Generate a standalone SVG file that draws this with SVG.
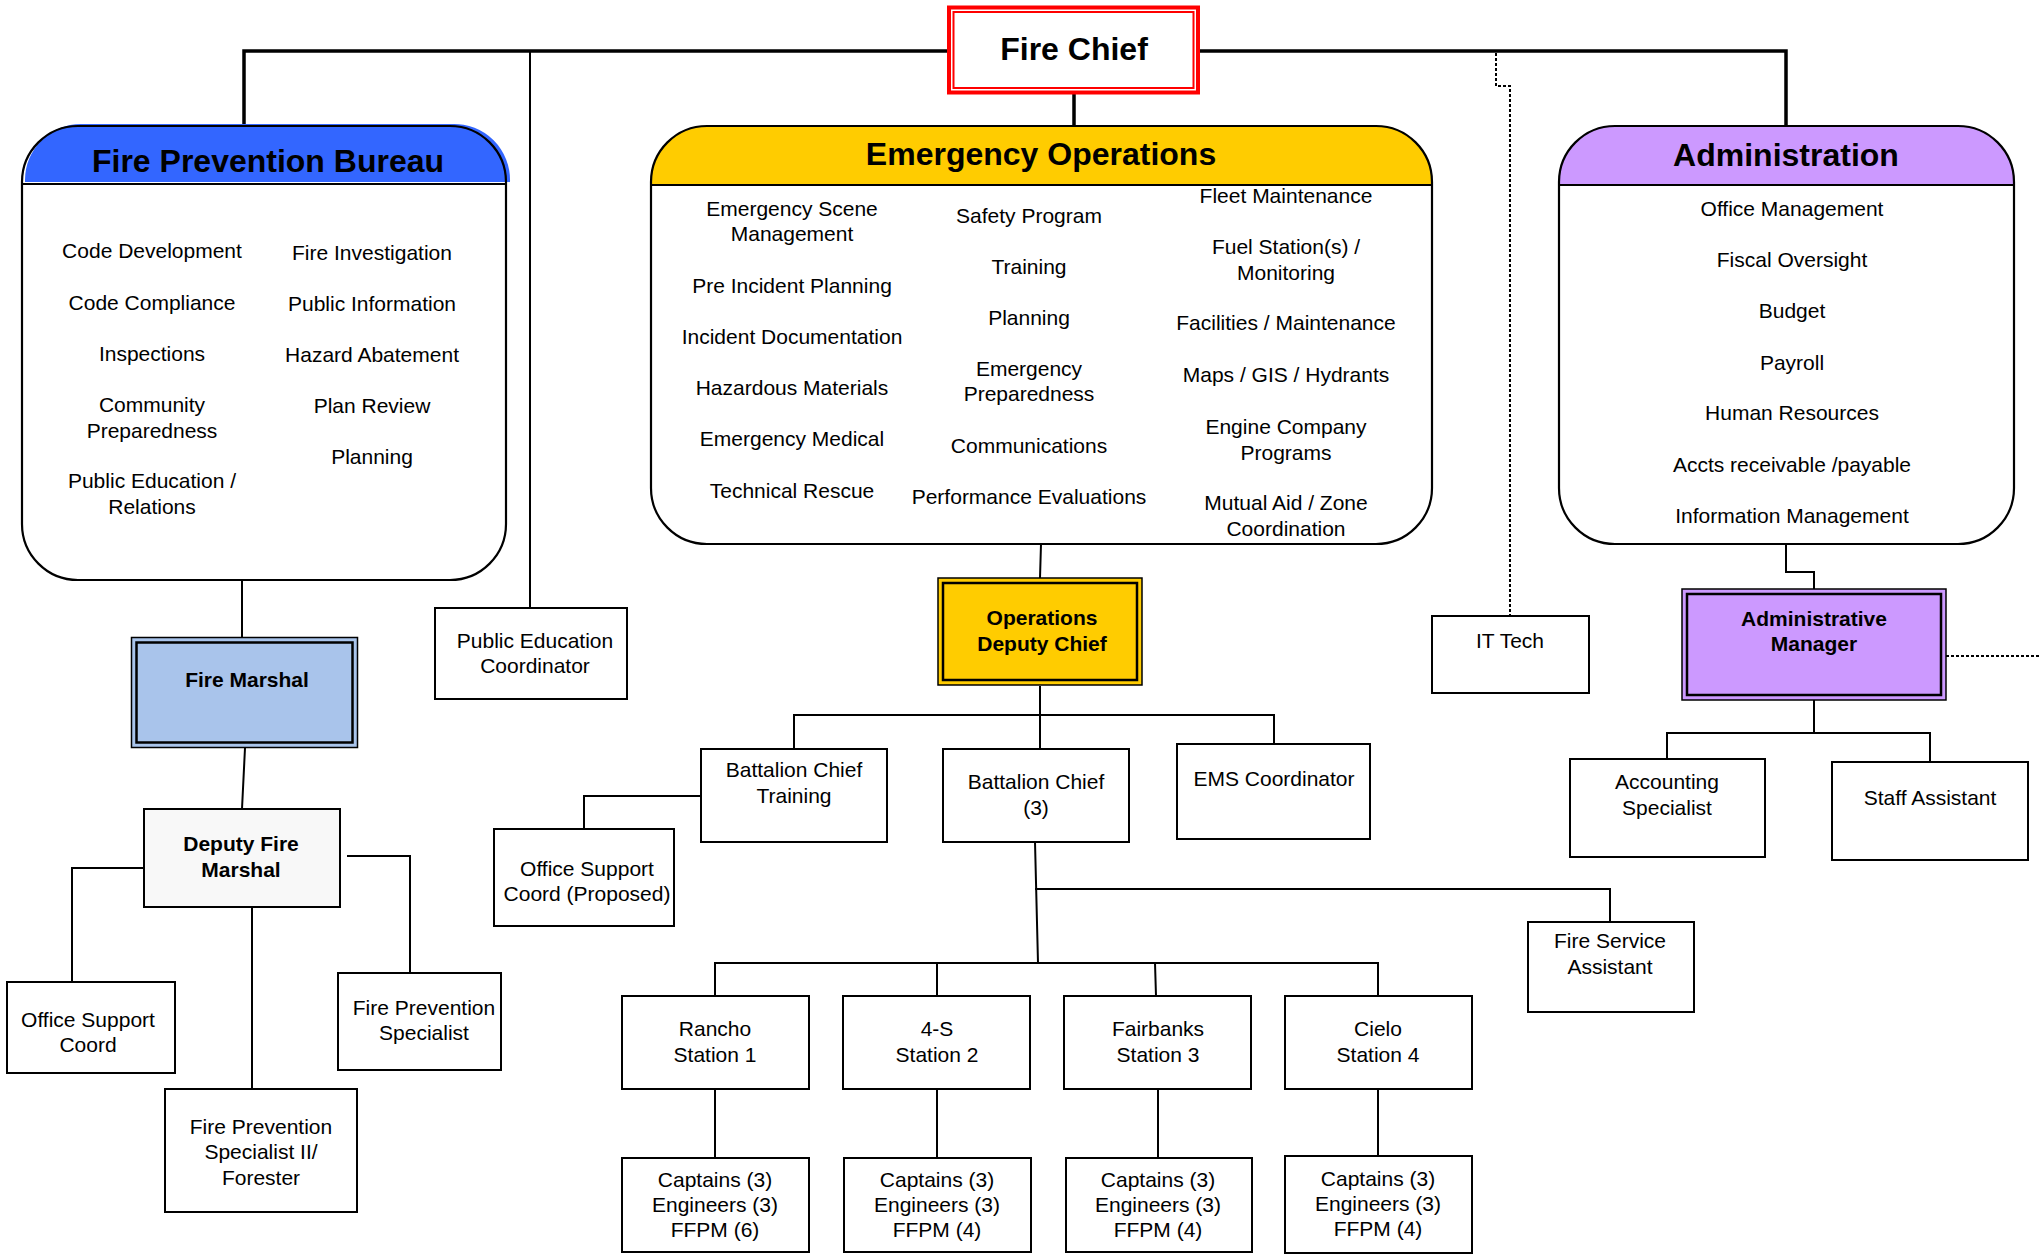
<svg xmlns="http://www.w3.org/2000/svg" width="2040" height="1257" viewBox="0 0 2040 1257">
<style>
text{font-family:"Liberation Sans",Arial,sans-serif;fill:#000;text-anchor:middle}
.t{font-size:21px}
.b{font-size:21px;font-weight:bold}
.h{font-size:32px;font-weight:bold}
.box{fill:#fff;stroke:#000;stroke-width:2}
.ol{fill:none;stroke:#000;stroke-width:2.2}
.c{fill:none;stroke:#000;stroke-width:2}
.ck{fill:none;stroke:#000;stroke-width:3.5}
.d{fill:none;stroke:#000;stroke-width:2;stroke-dasharray:3 2}
</style>
<rect width="2040" height="1257" fill="#fff"/>
<g id="connectors">
<path class="ck" d="M244,128 V51 H948 M1200,51 H1786 V127 M1074,94 V127"/>
<path class="c" d="M530,51 V616"/>
<path class="d" d="M1496,53 V86 H1510 V616"/>
<path class="c" d="M242,580 V637 M245,748 L242,809 M144,868 H72 V988 M347,856 H410 V976 M252,907 V1092"/>
<path class="c" d="M1041,544 L1040,578 M1040,686 V749 M794,749 V715 H1274 V744 M701,796 H584 V829"/>
<path class="c" d="M1035,842 L1038,963 M1035,889 H1610 V922 M715,996 V963 H1378 V996 M937,963 V996 M1155,963 L1156,996"/>
<path class="c" d="M715,1089 V1158 M937,1089 V1158 M1158,1089 V1158 M1378,1089 V1156"/>
<path class="c" d="M1786,544 V572 H1814 V589 M1814,700 V733 M1667,759 V733 H1930 V772"/>
<path class="d" d="M1946,656 H2040"/>
</g>
<g id="fire-chief">
<rect x="949" y="7.5" width="249" height="85" fill="#fff" stroke="#f00" stroke-width="4"/>
<rect x="953.5" y="12" width="240" height="76" fill="none" stroke="#f00" stroke-width="2"/>
<text class="h" x="1074" y="60">Fire Chief</text>
</g>
<g id="fire-prevention-bureau">
<rect x="22" y="126" width="484" height="454" rx="56" ry="56" fill="#fff"/>
<path d="M25,182 V180 A56,56 0 0 1 81,124 H452 A56,56 0 0 1 510,182 Z" fill="#3366FF"/>
<rect x="22" y="126" width="484" height="454" rx="56" ry="56" class="ol"/>
<path class="ol" d="M22,184 H506"/>
<text class="h" x="268" y="172">Fire Prevention Bureau</text>
<text class="t" x="152" y="258">Code Development</text>
<text class="t" x="152" y="310">Code Compliance</text>
<text class="t" x="152" y="361">Inspections</text>
<text class="t" x="152" y="412">Community</text>
<text class="t" x="152" y="438">Preparedness</text>
<text class="t" x="152" y="488">Public Education /</text>
<text class="t" x="152" y="514">Relations</text>
<text class="t" x="372" y="260">Fire Investigation</text>
<text class="t" x="372" y="311">Public Information</text>
<text class="t" x="372" y="362">Hazard Abatement</text>
<text class="t" x="372" y="413">Plan Review</text>
<text class="t" x="372" y="464">Planning</text>
</g>
<g id="emergency-operations">
<rect x="651" y="126" width="781" height="418" rx="56" ry="56" fill="#fff"/>
<path d="M651,185 V182 A56,56 0 0 1 707,126 H1376 A56,56 0 0 1 1432,182 V185 Z" fill="#FFCC00"/>
<rect x="651" y="126" width="781" height="418" rx="56" ry="56" class="ol"/>
<path class="ol" d="M651,185 H1432"/>
<text class="h" x="1041" y="165">Emergency Operations</text>
<text class="t" x="792" y="216">Emergency Scene</text>
<text class="t" x="792" y="241">Management</text>
<text class="t" x="792" y="293">Pre Incident Planning</text>
<text class="t" x="792" y="344">Incident Documentation</text>
<text class="t" x="792" y="395">Hazardous Materials</text>
<text class="t" x="792" y="446">Emergency Medical</text>
<text class="t" x="792" y="498">Technical Rescue</text>
<text class="t" x="1029" y="223">Safety Program</text>
<text class="t" x="1029" y="274">Training</text>
<text class="t" x="1029" y="325">Planning</text>
<text class="t" x="1029" y="376">Emergency</text>
<text class="t" x="1029" y="401">Preparedness</text>
<text class="t" x="1029" y="453">Communications</text>
<text class="t" x="1029" y="504">Performance Evaluations</text>
<text class="t" x="1286" y="203">Fleet Maintenance</text>
<text class="t" x="1286" y="254">Fuel Station(s) /</text>
<text class="t" x="1286" y="280">Monitoring</text>
<text class="t" x="1286" y="330">Facilities / Maintenance</text>
<text class="t" x="1286" y="382">Maps / GIS / Hydrants</text>
<text class="t" x="1286" y="434">Engine Company</text>
<text class="t" x="1286" y="460">Programs</text>
<text class="t" x="1286" y="510">Mutual Aid / Zone</text>
<text class="t" x="1286" y="536">Coordination</text>
</g>
<g id="administration">
<rect x="1559" y="126" width="455" height="418" rx="56" ry="56" fill="#fff"/>
<path d="M1559,185 V182 A56,56 0 0 1 1615,126 H1958 A56,56 0 0 1 2014,182 V185 Z" fill="#CC99FF"/>
<rect x="1559" y="126" width="455" height="418" rx="56" ry="56" class="ol"/>
<path class="ol" d="M1559,185 H2014"/>
<text class="h" x="1786" y="166">Administration</text>
<text class="t" x="1792" y="216">Office Management</text>
<text class="t" x="1792" y="267">Fiscal Oversight</text>
<text class="t" x="1792" y="318">Budget</text>
<text class="t" x="1792" y="370">Payroll</text>
<text class="t" x="1792" y="420">Human Resources</text>
<text class="t" x="1792" y="472">Accts receivable /payable</text>
<text class="t" x="1792" y="523">Information Management</text>
</g>
<g id="fire-marshal">
<rect x="131.5" y="637.5" width="226" height="110" fill="#A9C4EB" stroke="#000" stroke-width="1.5"/>
<rect x="136.5" y="642.5" width="216" height="100" fill="none" stroke="#000" stroke-width="2.5"/>
<text class="b" x="247" y="687">Fire Marshal</text>
</g>
<g id="deputy-fire-marshal">
<rect x="144" y="809" width="196" height="98" fill="#F8F8F8" stroke="#000" stroke-width="2"/>
<text class="b" x="241" y="851">Deputy Fire</text>
<text class="b" x="241" y="877">Marshal</text>
</g>
<g id="office-support-coord">
<rect class="box" x="7" y="982" width="168" height="91"/>
<text class="t" x="88" y="1027">Office Support</text>
<text class="t" x="88" y="1052">Coord</text>
</g>
<g id="fire-prevention-specialist">
<rect class="box" x="338" y="973" width="163" height="97"/>
<text class="t" x="424" y="1015">Fire Prevention</text>
<text class="t" x="424" y="1040">Specialist</text>
</g>
<g id="fire-prevention-specialist-ii">
<rect class="box" x="165" y="1089" width="192" height="123"/>
<text class="t" x="261" y="1134">Fire Prevention</text>
<text class="t" x="261" y="1159">Specialist II/</text>
<text class="t" x="261" y="1185">Forester</text>
</g>
<g id="public-education-coordinator">
<rect class="box" x="435" y="608" width="192" height="91"/>
<text class="t" x="535" y="648">Public Education</text>
<text class="t" x="535" y="673">Coordinator</text>
</g>
<g id="operations-deputy-chief">
<rect x="938" y="578" width="204" height="107" fill="#FFCC00" stroke="#000" stroke-width="1.5"/>
<rect x="943" y="583" width="194" height="97" fill="none" stroke="#000" stroke-width="2.5"/>
<text class="b" x="1042" y="625">Operations</text>
<text class="b" x="1042" y="651">Deputy Chief</text>
</g>
<g id="battalion-chief-training">
<rect class="box" x="701" y="749" width="186" height="93"/>
<text class="t" x="794" y="777">Battalion Chief</text>
<text class="t" x="794" y="803">Training</text>
</g>
<g id="office-support-coord-proposed">
<rect class="box" x="494" y="829" width="180" height="97"/>
<text class="t" x="587" y="876">Office Support</text>
<text class="t" x="587" y="901">Coord (Proposed)</text>
</g>
<g id="battalion-chief-3">
<rect class="box" x="943" y="749" width="186" height="93"/>
<text class="t" x="1036" y="789">Battalion Chief</text>
<text class="t" x="1036" y="815">(3)</text>
</g>
<g id="ems-coordinator">
<rect class="box" x="1177" y="744" width="193" height="95"/>
<text class="t" x="1274" y="786">EMS Coordinator</text>
</g>
<g id="fire-service-assistant">
<rect class="box" x="1528" y="922" width="166" height="90"/>
<text class="t" x="1610" y="948">Fire Service</text>
<text class="t" x="1610" y="974">Assistant</text>
</g>
<g id="station-1">
<rect class="box" x="622" y="996" width="187" height="93"/>
<text class="t" x="715" y="1036">Rancho</text>
<text class="t" x="715" y="1062">Station 1</text>
</g>
<g id="station-2">
<rect class="box" x="843" y="996" width="187" height="93"/>
<text class="t" x="937" y="1036">4-S</text>
<text class="t" x="937" y="1062">Station 2</text>
</g>
<g id="station-3">
<rect class="box" x="1064" y="996" width="187" height="93"/>
<text class="t" x="1158" y="1036">Fairbanks</text>
<text class="t" x="1158" y="1062">Station 3</text>
</g>
<g id="station-4">
<rect class="box" x="1285" y="996" width="187" height="93"/>
<text class="t" x="1378" y="1036">Cielo</text>
<text class="t" x="1378" y="1062">Station 4</text>
</g>
<g id="crew-1">
<rect class="box" x="622" y="1158" width="187" height="94"/>
<text class="t" x="715" y="1187">Captains (3)</text>
<text class="t" x="715" y="1212">Engineers (3)</text>
<text class="t" x="715" y="1237">FFPM (6)</text>
</g>
<g id="crew-2">
<rect class="box" x="844" y="1158" width="187" height="94"/>
<text class="t" x="937" y="1187">Captains (3)</text>
<text class="t" x="937" y="1212">Engineers (3)</text>
<text class="t" x="937" y="1237">FFPM (4)</text>
</g>
<g id="crew-3">
<rect class="box" x="1066" y="1158" width="186" height="94"/>
<text class="t" x="1158" y="1187">Captains (3)</text>
<text class="t" x="1158" y="1212">Engineers (3)</text>
<text class="t" x="1158" y="1237">FFPM (4)</text>
</g>
<g id="crew-4">
<rect class="box" x="1285" y="1156" width="187" height="97"/>
<text class="t" x="1378" y="1186">Captains (3)</text>
<text class="t" x="1378" y="1211">Engineers (3)</text>
<text class="t" x="1378" y="1236">FFPM (4)</text>
</g>
<g id="it-tech">
<rect class="box" x="1432" y="616" width="157" height="77"/>
<text class="t" x="1510" y="648">IT Tech</text>
</g>
<g id="administrative-manager">
<rect x="1682" y="589" width="264" height="111" fill="#CC99FF" stroke="#000" stroke-width="1.5"/>
<rect x="1687" y="594" width="254" height="101" fill="none" stroke="#000" stroke-width="2.5"/>
<text class="b" x="1814" y="626">Administrative</text>
<text class="b" x="1814" y="651">Manager</text>
</g>
<g id="accounting-specialist">
<rect class="box" x="1570" y="759" width="195" height="98"/>
<text class="t" x="1667" y="789">Accounting</text>
<text class="t" x="1667" y="815">Specialist</text>
</g>
<g id="staff-assistant">
<rect class="box" x="1832" y="762" width="196" height="98"/>
<text class="t" x="1930" y="805">Staff Assistant</text>
</g>
</svg>
